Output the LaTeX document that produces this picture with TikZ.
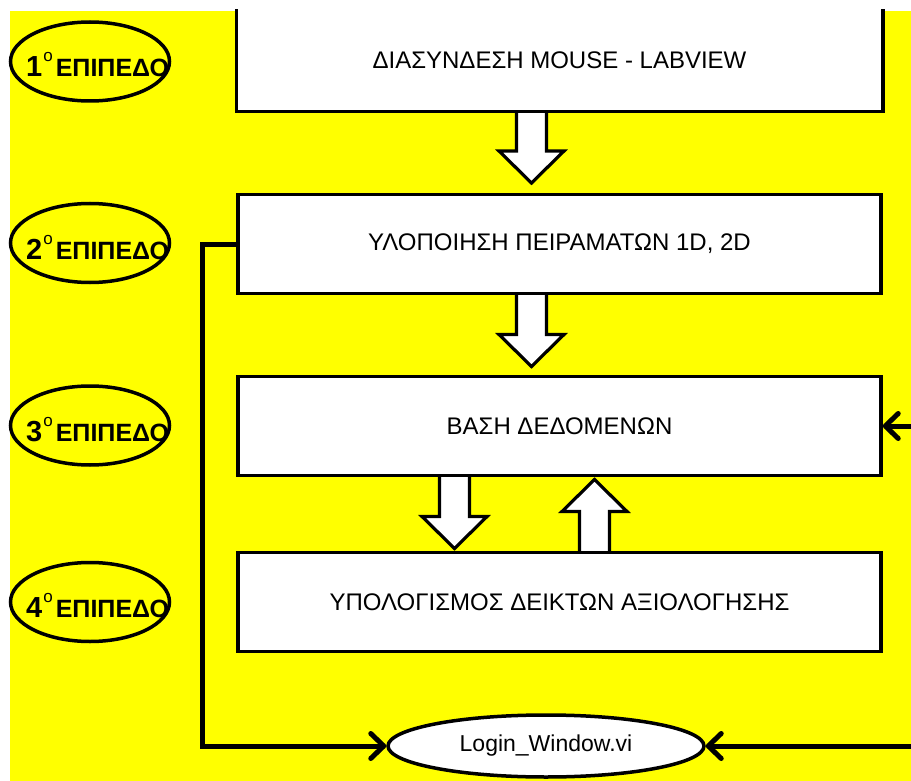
\documentclass[tikz,border=0pt]{standalone}
\usepackage{fontspec}
\setmainfont{Liberation Sans}
\usetikzlibrary{arrows.meta,calc,shapes.geometric}
\definecolor{bgyellow}{RGB}{255,255,0}
\tikzset{
  boxnode/.style={rectangle,fill=white,draw=black,line width=3.5pt,minimum width=643pt,minimum height=99pt,inner sep=0pt,font=\fontsize{24}{28}\selectfont},
  lvl/.style={ellipse,draw=black,line width=3.5pt,minimum width=159pt,minimum height=79pt,inner sep=0pt},
  lvltext/.style={font=\bfseries\fontsize{25}{28}\selectfont,inner sep=0pt,anchor=base west},
  conn/.style={line width=5pt,line join=miter},
  tipa/.style={-{Straight Barb[length=13pt,width=25pt,round]}},
  blockdown/.pic={\draw[line width=3.2pt,fill=white,line join=miter] (-15,0) -- (-15,41) -- (-32.5,41) -- (0,73) -- (32.5,41) -- (15,41) -- (15,0);}
}
\newcommand{\lvlname}[1]{{\fontsize{29}{30}\selectfont #1}\hspace{1pt}\raisebox{15pt}{\mdseries\fontsize{17}{17}\selectfont o}\hspace{3pt}ΕΠΙΠΕΔΟ}
\begin{document}
\begin{tikzpicture}[x=1pt,y=-1pt]
\useasboundingbox (0,0) rectangle (911,781);
\fill[white] (0,0) rectangle (911,781);
\fill[bgyellow] (10,11) rectangle (911,781);

% boxes (positions)
\coordinate (c1) at (559.5,60.5);
\coordinate (c2) at (559.5,244);
\coordinate (c3) at (559.5,426);
\coordinate (c4) at (559.5,602);

% block arrows first
\pic at ($(c1)+(-28,49.5)$) {blockdown};
\pic at ($(c2)+(-28,49.5)$) {blockdown};
\pic at ($(c3)+(-105,49.5)$) {blockdown};
\pic[yscale=-1] at ($(c4)+(35,-49.5)$) {blockdown};

\node[boxnode,draw=none] (box1) at (c1) {ΔΙΑΣΥΝΔΕΣΗ MOUSE - LABVIEW};
\draw[line width=3.5pt] (box1.north west) -- (box1.south west) -- (box1.south east) -- (box1.north east);
\node[boxnode] (box2) at (c2) {ΥΛΟΠΟΙΗΣΗ ΠΕΙΡΑΜΑΤΩΝ 1D, 2D};
\node[boxnode] (box3) at (c3) {ΒΑΣΗ ΔΕΔΟΜΕΝΩΝ};
\node[boxnode] (box4) at (c4) {ΥΠΟΛΟΓΙΣΜΟΣ ΔΕΙΚΤΩΝ ΑΞΙΟΛΟΓΗΣΗΣ};

% level ellipses
\node[lvl] (l1) at (90,61.5) {};
\node[lvl] (l2) at (90,243) {};
\node[lvl] (l3) at (90,425.5) {};
\node[lvl] (l4) at (90,602) {};
\node[lvltext] (t1) at ($(l1)+(-64,15)$) {\lvlname{1}};
\node[lvltext] (t2) at ($(l2)+(-64,16)$) {\lvlname{2}};
\node[lvltext] (t3) at ($(l3)+(-64,16)$) {\lvlname{3}};
\node[lvltext] (t4) at ($(l4)+(-64,15)$) {\lvlname{4}};

% login
\node[ellipse,draw=black,fill=white,line width=3.5pt,minimum width=316pt,minimum height=62pt,inner sep=0pt,font=\fontsize{23}{26}\selectfont] (login) at (546,746) {Login\_Window.vi};

% connectors
\draw[conn,tipa] (box2.west) -- ++(-34,0) |- (login.west);
\coordinate (r1) at (911,426);
\coordinate (r2) at (911,746);
\draw[conn,tipa] (r1) -- (box3.east);
\draw[conn,tipa] (r2) -- (login.east);
\end{tikzpicture}
\end{document}
